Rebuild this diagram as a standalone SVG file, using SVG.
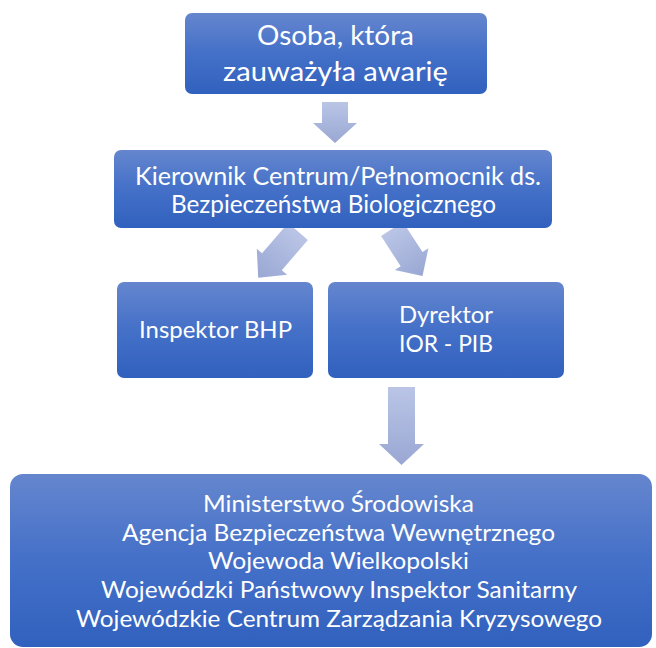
<svg xmlns="http://www.w3.org/2000/svg" width="656" height="648" viewBox="0 0 656 648">
<defs>
<linearGradient id="gBox" x1="0" y1="0" x2="0" y2="1">
<stop offset="0" stop-color="#6586CE"/>
<stop offset="0.5" stop-color="#4470C8"/>
<stop offset="1" stop-color="#3161BE"/>
</linearGradient>
<linearGradient id="gArr" x1="0" y1="0" x2="0" y2="1">
<stop offset="0" stop-color="#BAC5E6"/>
<stop offset="1" stop-color="#99A7D3"/>
</linearGradient>
<style>
.box{fill:url(#gBox);}
.arr{fill:url(#gArr);}
.t{font-family:Lato,"Open Sans","Noto Sans",sans-serif;fill:#FFFFFF;text-anchor:middle;}
</style>
</defs>
<rect width="656" height="648" fill="#FFFFFF"/>
<g id="connectors">
<path class="arr" d="M322,102 H348 V123 H357 L335,143 L313,123 H322 Z"/>
<path class="arr" transform="translate(298,231.5) rotate(40.7)" d="M-13,0 H13 V40 H20 L0,61 L-20,40 H-13 Z"/>
<path class="arr" transform="translate(392,229) rotate(-33)" d="M-13,0 H13 V36 H20 L0,56 L-20,36 H-13 Z"/>
<path class="arr" d="M388,387 H415 V444 H424 L401.5,465 L379,444 H388 Z"/>
</g>
<g id="node-osoba">
<rect class="box" x="185" y="13" width="302" height="81" rx="7"/>
<text class="t" x="335.5" y="45" font-size="27" textLength="157" lengthAdjust="spacingAndGlyphs">Osoba, która</text>
<text class="t" x="335.5" y="81" font-size="27" textLength="225" lengthAdjust="spacingAndGlyphs">zauważyła awarię</text>
</g>
<g id="node-kierownik">
<rect class="box" x="114" y="150" width="438" height="78" rx="7"/>
<text class="t" x="338" y="185" font-size="24.5" textLength="406" lengthAdjust="spacingAndGlyphs">Kierownik Centrum/Pełnomocnik ds.</text>
<text class="t" x="333.5" y="213" font-size="24.5" textLength="325" lengthAdjust="spacingAndGlyphs">Bezpieczeństwa Biologicznego</text>
</g>
<g id="node-inspektor">
<rect class="box" x="117" y="282" width="196" height="96" rx="7"/>
<text class="t" x="215.5" y="338" font-size="24" textLength="153" lengthAdjust="spacingAndGlyphs">Inspektor BHP</text>
</g>
<g id="node-dyrektor">
<rect class="box" x="328" y="282" width="236" height="96" rx="7"/>
<text class="t" x="446" y="323" font-size="24" textLength="94" lengthAdjust="spacingAndGlyphs">Dyrektor</text>
<text class="t" x="446" y="352" font-size="24" textLength="94" lengthAdjust="spacingAndGlyphs">IOR - PIB</text>
</g>
<g id="node-instytucje">
<rect class="box" x="10" y="474" width="642" height="173" rx="13"/>
<text class="t" x="338.5" y="512" font-size="23" textLength="271" lengthAdjust="spacingAndGlyphs">Ministerstwo Środowiska</text>
<text class="t" x="338.5" y="541" font-size="23" textLength="433" lengthAdjust="spacingAndGlyphs">Agencja Bezpieczeństwa Wewnętrznego</text>
<text class="t" x="338.5" y="569" font-size="23" textLength="261" lengthAdjust="spacingAndGlyphs">Wojewoda Wielkopolski</text>
<text class="t" x="339" y="598" font-size="23" textLength="476" lengthAdjust="spacingAndGlyphs">Wojewódzki Państwowy Inspektor Sanitarny</text>
<text class="t" x="339" y="627" font-size="23" textLength="526" lengthAdjust="spacingAndGlyphs">Wojewódzkie Centrum Zarządzania Kryzysowego</text>
</g>
</svg>
